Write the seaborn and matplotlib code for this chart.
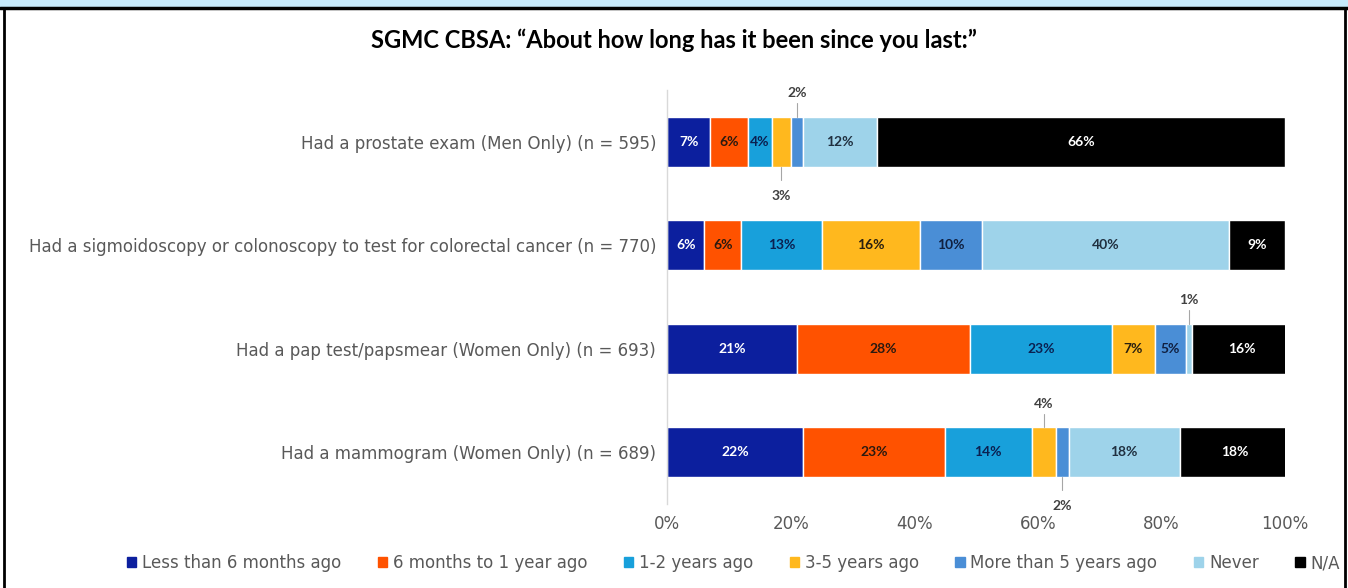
import matplotlib
matplotlib.use("Agg")
import pandas as pd
import matplotlib.pyplot as plt
import seaborn as sns
from matplotlib.patches import Rectangle
from matplotlib.lines import Line2D

# Survey questions (y categories) and answer groups (stack order)
questions = [
    "Had a prostate exam (Men Only) (n = 595)",
    "Had a sigmoidoscopy or colonoscopy to test for colorectal cancer (n = 770)",
    "Had a pap test/papsmear (Women Only) (n = 693)",
    "Had a mammogram (Women Only) (n = 689)",
]
responses = ["Less than 6 months ago", "6 months to 1 year ago", "1-2 years ago",
             "3-5 years ago", "More than 5 years ago", "Never", "N/A"]

# Percent values per answer group, one entry per question
less_6m = [7, 6, 21, 22]
m6_to_1y = [6, 6, 28, 23]
y1_2 = [4, 13, 23, 14]
y3_5 = [3, 16, 7, 4]
more_5y = [2, 10, 5, 2]
never = [12, 40, 1, 18]
n_a = [66, 9, 16, 18]

colors = ["#0C1F9E", "#FF5200", "#18A0DB", "#FFB81E", "#4A8ED6", "#9ED3EA", "#000000"]
text_colors = ["white", "#2a1a10", "#0b2050", "#2a2010", "#102040", "#203040", "white"]

# labels drawn outside the bar: (question, response, side)
outside = [(0, 4, "above"), (0, 3, "below"), (2, 5, "above"),
           (3, 3, "above"), (3, 4, "below")]

df = pd.DataFrame(dict(zip(responses, [less_6m, m6_to_1y, y1_2, y3_5, more_5y, never, n_a])),
                  index=questions)
lefts = df.cumsum(axis=1) - df

sns.set_theme(style="white")
plt.rcParams["font.family"] = ["DejaVu Sans"]

fig = plt.figure(figsize=(13.48, 5.88), dpi=100)
ax = fig.add_axes([0.495, 0.143, 0.458, 0.704])

for r, c in zip(responses, colors):
    sns.barplot(x=df[r] / 100, y=questions, left=lefts[r] / 100, color=c,
                saturation=1, width=0.485, errorbar=None, orient="h", ax=ax)

out_keys = {(q, r) for q, r, _ in outside}
for qi in range(len(questions)):
    for ri, r in enumerate(responses):
        v = df.iloc[qi, ri]
        xc = (lefts.iloc[qi, ri] + v / 2) / 100
        if (qi, ri) in out_keys:
            continue
        ax.text(xc, qi, f"{v}%", ha="center", va="center", fontsize=10,
                fontfamily="Lato", fontweight="bold", color=text_colors[ri])

for qi, ri, side in outside:
    v = df.iloc[qi, ri]
    xc = (lefts.iloc[qi, ri] + v / 2) / 100
    s = -1 if side == "above" else 1
    ax.plot([xc, xc], [qi + s * 0.2425, qi + s * 0.37], color="#A6A6A6", lw=0.8)
    ax.text(xc, qi + s * (0.47 if side == "above" else 0.52), f"{v}%", ha="center",
            va="center", fontsize=10, fontfamily="Lato", fontweight="bold", color="#404040")

ax.set_xlim(0, 1)
ax.set_ylim(3.5, -0.5)
ax.set_xticks([0, 0.2, 0.4, 0.6, 0.8, 1.0])
ax.set_xticklabels(["0%", "20%", "40%", "60%", "80%", "100%"])
ax.tick_params(axis="both", length=0, labelsize=12, labelcolor="#595959")
ax.tick_params(axis="x", pad=8)
ax.tick_params(axis="y", pad=8)
ax.set_xlabel("")
ax.set_ylabel("")
for s in ["top", "right", "bottom"]:
    ax.spines[s].set_visible(False)
ax.spines["left"].set_color("#D9D9D9")
ax.spines["left"].set_linewidth(1)

fig.text(0.5, 1 - 40 / 588, "SGMC CBSA: \u201cAbout how long has it been since you last:\u201d",
         ha="center", va="center", fontsize=17, fontfamily="Lato", fontweight="bold",
         color="black")

handles = [Rectangle((0, 0), 1, 1, color=c) for c in colors]
fig.legend(handles, responses, loc="center", bbox_to_anchor=(0.544, 1 - 563 / 588),
           ncol=7, frameon=False, fontsize=12, handlelength=0.55, handleheight=0.55,
           handletextpad=0.35, columnspacing=2.2, labelcolor="#595959")

# page frame: light blue strip and black border lines
fig.patches.append(Rectangle((0, 1 - 6 / 588), 1, 6 / 588, transform=fig.transFigure,
                             color="#C6E9FB", zorder=0))
fig.lines.append(Line2D([0, 1], [1 - 7.5 / 588] * 2, transform=fig.transFigure,
                        color="black", lw=2.5))
fig.lines.append(Line2D([4 / 1348] * 2, [0, 1 - 7.5 / 588], transform=fig.transFigure,
                        color="black", lw=2))
fig.lines.append(Line2D([1345 / 1348] * 2, [0, 1 - 7.5 / 588], transform=fig.transFigure,
                        color="black", lw=2))

fig.savefig("out.png", dpi=100)
